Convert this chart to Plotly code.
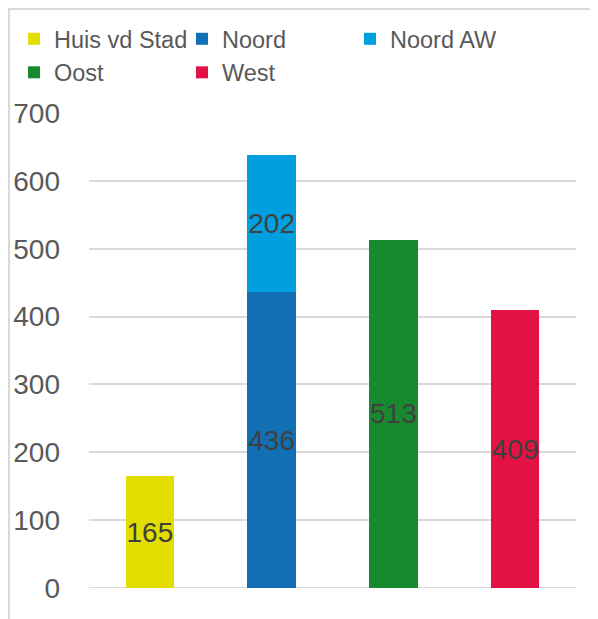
import plotly.graph_objects as go

categories = ["Huis vd Stad", "Noord", "Oost", "West"]
series_names = ["Huis vd Stad", "Noord", "Noord AW", "Oost", "West"]
series_values = {
    "Huis vd Stad": [165, None, None, None],
    "Noord": [None, 436, None, None],
    "Noord AW": [None, 202, None, None],
    "Oost": [None, None, 513, None],
    "West": [None, None, None, 409],
}
series_colors = {
    "Huis vd Stad": "#E3DE00",
    "Noord": "#1170B4",
    "Noord AW": "#00A0E0",
    "Oost": "#178A2F",
    "West": "#E31244",
}
y_ticks = [0, 100, 200, 300, 400, 500, 600, 700]

FONT = "Liberation Sans"
W, H = 590, 611
ML, MR, MT, MB = 81, 22, 105, 31
PW, PH = W - ML - MR, H - MT - MB

fig = go.Figure()
for name in series_names:
    vals = series_values[name]
    fig.add_trace(go.Bar(
        x=categories, y=vals, name=name,
        marker=dict(color=series_colors[name], line=dict(width=0)),
        text=[str(v) if v is not None else "" for v in vals],
        textposition="inside", insidetextanchor="middle",
        constraintext="none", textangle=0,
        textfont=dict(family=FONT, size=28, color="#404040"),
        hoverinfo="skip",
    ))

def px_x(p):
    return (p - ML) / PW

def px_y(p):
    return 1 - (p - MT) / PH

fig.update_layout(
    width=W, height=H,
    margin=dict(l=ML, r=MR, t=MT, b=MB, autoexpand=False),
    barmode="stack", bargap=0.6,
    paper_bgcolor="white", plot_bgcolor="white",
    font=dict(family=FONT, size=24, color="#595959"),
    showlegend=True,
    legend=dict(
        orientation="h",
        x=px_x(6), xanchor="left",
        y=px_y(9), yanchor="top",
        bgcolor="rgba(0,0,0,0)",
        entrywidth=123, entrywidthmode="pixels",
        font=dict(family=FONT, size=23.5, color="#595959"),
        traceorder="normal", itemclick=False,
    ),
    xaxis=dict(showticklabels=False, showgrid=False, zeroline=False,
               showline=False, ticks="", range=[-0.5, 3.5], automargin=False),
    yaxis=dict(range=[0, 700], tickvals=y_ticks, showgrid=True,
               gridcolor="#D9D9D9", gridwidth=2, zeroline=False,
               showline=False, ticks="", ticklabelstandoff=28, automargin=False,
               tickfont=dict(family=FONT, size=28, color="#595959")),
    shapes=[
        dict(type="line", xref="paper", yref="paper",
             x0=px_x(1), x1=px_x(1), y0=px_y(0), y1=px_y(H),
             line=dict(color="#D9D9D9", width=2)),
        dict(type="line", xref="paper", yref="paper",
             x0=px_x(0), x1=px_x(W), y0=px_y(1), y1=px_y(1),
             line=dict(color="#D9D9D9", width=2)),
    ],
)
fig.add_hline(y=0, line=dict(color="#D9D9D9", width=2), layer="below")

fig.write_html("out.html")
